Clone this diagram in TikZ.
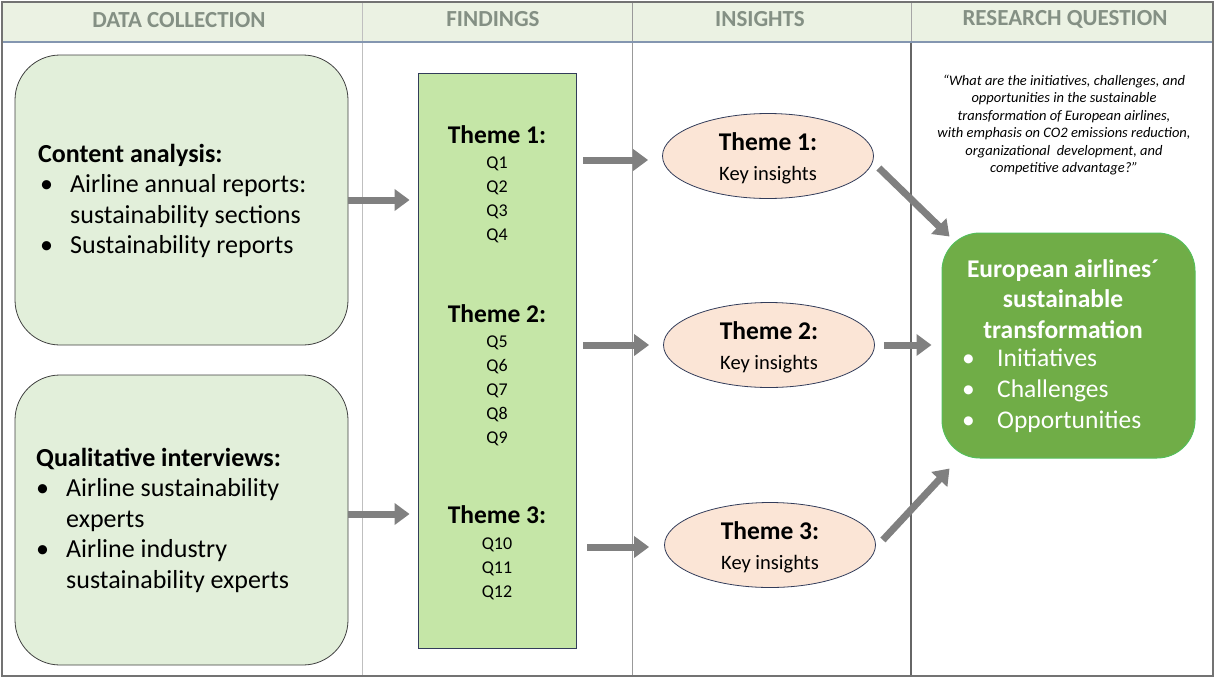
\documentclass[tikz,border=0pt]{standalone}
\usepackage{fontspec}
\setmainfont{Carlito}
\usetikzlibrary{arrows.meta,calc,shapes.geometric}
\definecolor{hdrfill}{RGB}{235,242,227}
\definecolor{hdrtext}{RGB}{132,144,132}
\definecolor{boxfill}{RGB}{226,239,218}
\definecolor{finfill}{RGB}{197,230,167}
\definecolor{ellfill}{RGB}{251,229,214}
\definecolor{rqfill}{RGB}{112,173,71}
\definecolor{rqborder}{RGB}{84,190,90}
\definecolor{arrgray}{RGB}{128,128,128}
\definecolor{navy}{RGB}{50,60,90}
\definecolor{hdrline}{RGB}{132,150,176}
\newcommand{\bitm}[1]{\makebox[30pt][l]{\textbullet}#1}
\newcommand{\bcont}[1]{\hspace*{30pt}#1}
\begin{document}
\begin{tikzpicture}[x=1pt,y=-1pt,
  hdr/.style={font=\fontsize{23}{26}\selectfont\bfseries, text=hdrtext},
  srcbox/.style={draw=black!75, fill=boxfill, rounded corners=45pt, line width=0.8pt, minimum width=333pt, minimum height=290pt},
  srctext/.style={align=left, anchor=west, inner sep=0pt, font=\fontsize{26}{30.5}\selectfont},
  grp/.style={align=center, inner sep=0pt, font=\fontsize{18}{24}\selectfont},
  ins/.style={ellipse, draw=navy, fill=ellfill, line width=0.8pt, minimum width=211pt, minimum height=85pt, inner sep=0pt},
  instext/.style={align=center, inner sep=0pt, font=\fontsize{20.5}{30}\selectfont},
  bigarrow/.style={draw=arrgray, line width=7pt, -{Triangle[width=21pt,length=15pt]}}
]
\useasboundingbox (0,0) rectangle (1215,678);
% header band
\fill[hdrfill] (2,2) rectangle (1213,42);
% column lines
\draw[black!25, line width=1pt] (362,2) -- (362,676);
\draw[black!40, line width=1pt] (632,2) -- (632,676);
\draw[black!60, line width=1.8pt] (911,42) -- (911,676);
\draw[black!35, line width=1pt] (911,2) -- (911,42);
\draw[hdrline, line width=1.5pt] (2,42) -- (1213,42);
\draw[black!55, line width=1.8pt] (2,2) rectangle (1213,676);
% headers
\node[hdr] (h1) at (179,20) {DATA COLLECTION};
\node[hdr] (h2) at (493,19) {FINDINGS};
\node[hdr] (h3) at (760,19) {INSIGHTS};
\node[hdr] (h4) at (1065,19) {RESEARCH QUESTION};
% source boxes
\node[srcbox] (cb1) at (181.5,200) {};
\node[srcbox] (cb2) at (181.5,520) {};
\node[srctext] (cb1t) at (38,201) {\textbf{Content analysis:}\\ \hspace*{2pt}\bitm{Airline annual reports:}\\ \hspace*{2pt}\bcont{sustainability sections}\\ \hspace*{2pt}\bitm{Sustainability reports}};
\node[srctext] (cb2t) at (36,520) {\textbf{Qualitative interviews:}\\ \hspace*{0pt}\bitm{Airline sustainability}\\ \hspace*{0pt}\bcont{experts}\\ \hspace*{0pt}\bitm{Airline industry}\\ \hspace*{0pt}\bcont{sustainability experts}};
% findings
\node[draw=navy, fill=finfill, line width=0.8pt, minimum width=158pt, minimum height=575pt, inner sep=0pt] (fin) at (497,360.5) {};
\node[grp] (g1) at (497,184) {{\fontsize{25.5}{24}\selectfont\bfseries Theme 1:}\\[1pt] Q1\\ Q2\\ Q3\\ Q4};
\node[grp] (g2) at (497,375) {{\fontsize{25.5}{24}\selectfont\bfseries Theme 2:}\\[1pt] Q5\\ Q6\\ Q7\\ Q8\\ Q9};
\node[grp] (g3) at (497,553) {{\fontsize{25.5}{24}\selectfont\bfseries Theme 3:}\\[2pt] Q10\\ Q11\\ Q12};
% insights
\node[ins] (t1) at (768,156) {};
\node[ins] (t2) at (769,345) {};
\node[ins] (t3) at (770,545) {};
\node[instext] (t1l) at ($(t1.center)+(0,2)$) {{\fontsize{25.5}{30}\selectfont\bfseries Theme 1:}\\ Key insights};
\node[instext] (t2l) at ($(t2.center)+(0,2)$) {{\fontsize{25.5}{30}\selectfont\bfseries Theme 2:}\\ Key insights};
\node[instext] (t3l) at ($(t3.center)+(0,2)$) {{\fontsize{25.5}{30}\selectfont\bfseries Theme 3:}\\ Key insights};
% research question
\node[align=center, inner sep=0pt, font=\fontsize{14.5}{17.4}\selectfont\itshape] (q) at (1064,125) {“What are the initiatives, challenges, and\\ opportunities in the sustainable\\ transformation of European airlines,\\ with emphasis on CO2 emissions reduction,\\ organizational\ \ development, and\\ competitive advantage?”};
\node[draw=rqborder, fill=rqfill, line width=1pt, rounded corners=38pt, minimum width=253pt, minimum height=225pt] (rq) at (1068.5,345.5) {};
\node[align=center, inner sep=0pt, text=white, font=\fontsize{25.5}{30.5}\selectfont\bfseries] (rqt) at (1063,299) {European airlines´\\ sustainable\\ transformation};
\node[align=left, anchor=north west, inner sep=0pt, text=white, font=\fontsize{25.5}{31}\selectfont] (rql) at (962,349) {\makebox[35pt][l]{\textbullet}Initiatives\\ \makebox[35pt][l]{\textbullet}Challenges\\ \makebox[35pt][l]{\textbullet}Opportunities};
% arrows
\draw[bigarrow, shorten >=8pt] (cb1.east) -- (cb1.east -| fin.west);
\draw[bigarrow, shorten >=8pt] ([yshift=6pt]cb2.east) -- ([yshift=6pt]cb2.east -| fin.west);
\draw[bigarrow, shorten <=7pt, shorten >=14pt] ([yshift=-4pt]fin.east |- t1.west) -- ([yshift=-4pt]t1.west);
\draw[bigarrow, shorten <=7pt, shorten >=14pt] (fin.east |- t2.west) -- (t2.west);
\draw[bigarrow, shorten <=11pt, shorten >=15pt] ([yshift=-2pt]fin.east |- t3.west) -- ([yshift=-2pt]t3.west);
\coordinate (a1s) at ($(t1.east)+(5,12)$);
\coordinate (a3s) at ($(t3.east)+(7,-5)$);
\draw[bigarrow] (a1s) -- ($(rq.north west)+(8,4)$);
\draw[bigarrow, shorten <=9pt, shorten >=10pt] (t2.east) -- (rq.west |- t2.east);
\draw[bigarrow] (a3s) -- ($(rq.south west)+(8,10)$);
\end{tikzpicture}
\end{document}
